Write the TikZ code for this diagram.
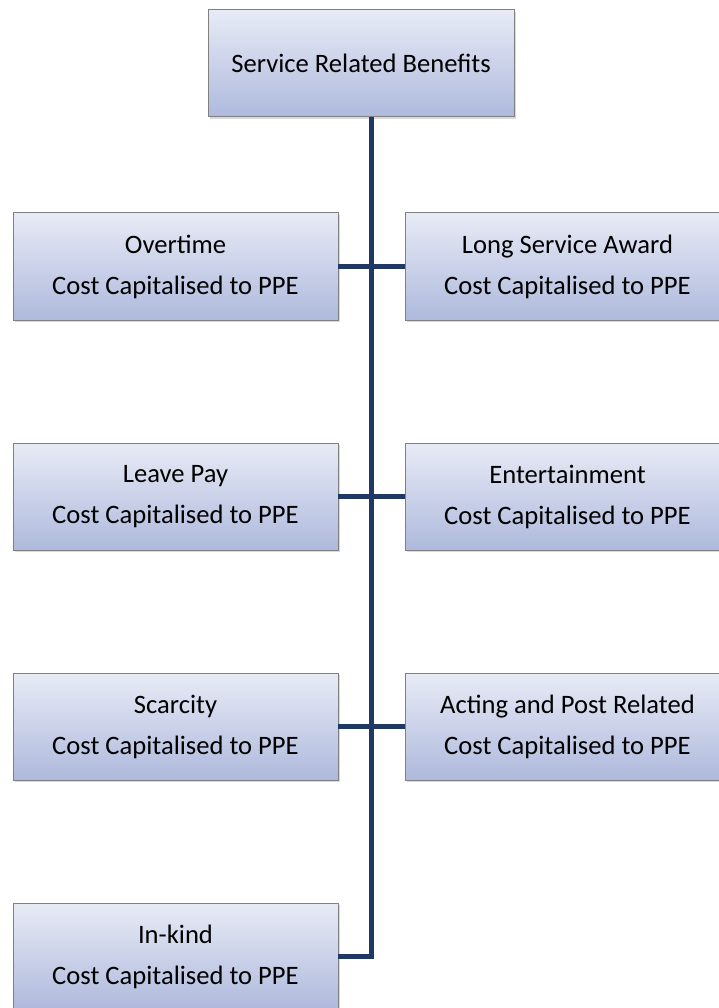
\documentclass[tikz,border=0pt]{standalone}
\usepackage{fontspec}
\setmainfont{Carlito}
\usepackage{xcolor}
\usepackage{tikz}
\usetikzlibrary{positioning,shadows}

\definecolor{boxtop}{RGB}{232,235,246}
\definecolor{boxbottom}{RGB}{174,185,220}
\definecolor{boxline}{RGB}{128,128,128}
\definecolor{spinecol}{RGB}{31,56,100}

\begin{document}
\begin{tikzpicture}[x=1pt,y=-1pt,node distance=123pt]
\tikzstyle{benefit}=[draw=boxline, line width=1pt, top color=boxtop, bottom color=boxbottom,
  minimum width=325pt, minimum height=107pt, outer sep=0pt, align=center,
  font=\fontsize{26.6}{41}\selectfont,
  drop shadow={shadow xshift=2pt, shadow yshift=-2pt, opacity=0.3}]
\tikzstyle{link}=[draw=spinecol, line width=5pt]
\useasboundingbox (0,0) rectangle (718,1008);

\node[benefit, minimum width=306pt] (srb) at (361,63.5) {Service Related Benefits};
\node[benefit] (overtime) at (175.5,266.5) {Overtime \\ Cost Capitalised to PPE};
\node[benefit, right=67pt of overtime] (longservice) {Long Service Award \\ Cost Capitalised to PPE};
\node[benefit, below=of overtime] (leavepay) {Leave Pay \\ Cost Capitalised to PPE};
\node[benefit, right=67pt of leavepay] (entertain) {Entertainment \\ Cost Capitalised to PPE};
\node[benefit, below=of leavepay] (scarcity) {Scarcity \\ Cost Capitalised to PPE};
\node[benefit, right=67pt of scarcity] (acting) {Acting and Post Related \\ Cost Capitalised to PPE};
\node[benefit, below=of scarcity] (inkind) {In-kind \\ Cost Capitalised to PPE};
\coordinate (spine) at (371.5,0);

\draw[link] (srb.south -| spine) |- (inkind.east);
\draw[link] (overtime) -- (longservice);
\draw[link] (leavepay) -- (entertain);
\draw[link] (scarcity) -- (acting);
\end{tikzpicture}
\end{document}
